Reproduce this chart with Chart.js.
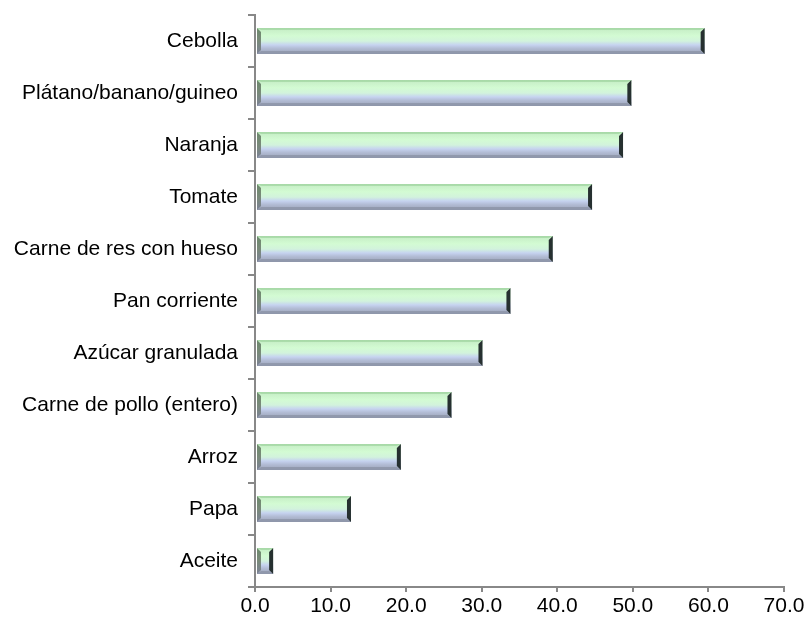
<!DOCTYPE html>
<html lang="es">
<head>
<meta charset="utf-8">
<title>Productos</title>
<script src="https://cdn.jsdelivr.net/npm/chart.js@4.4.1/dist/chart.umd.min.js"></script>
<style>
  html, body { margin: 0; padding: 0; background: #ffffff; }
  canvas { display: block; }
</style>
</head>
<body>
<canvas id="productChart" width="811" height="619"></canvas>
<script>
const categories = [
  "Cebolla",
  "Plátano/banano/guineo",
  "Naranja",
  "Tomate",
  "Carne de res con hueso",
  "Pan corriente",
  "Azúcar granulada",
  "Carne de pollo (entero)",
  "Arroz",
  "Papa",
  "Aceite",
];
const values = [59.5, 49.8, 48.7, 44.6, 39.4, 33.8, 30.1, 26.0, 19.3, 12.7, 2.4];
const xMin = 0;
const xMax = 70;
const xStep = 10;

const axisColor = "#888888";
const fontFamily = "'Liberation Sans', Arial, sans-serif";

// bars are filled here so they get the beveled, glassy look
const bevelBars = {
  id: "bevelBars",
  afterDatasetsDraw: (chart) => {
    const ctx = chart.ctx;
    const meta = chart.getDatasetMeta(0);
    meta.data.forEach((bar) => {
      const { x, y, base, height } = bar.getProps(["x", "y", "base", "height"], true);
      const x0 = Math.min(base, x) + 1;
      const x1 = Math.max(base, x);
      const y0 = y - height / 2;
      const y1 = y + height / 2;
      const b = Math.min(4, (x1 - x0) / 3);

      ctx.save();
      const grad = ctx.createLinearGradient(0, y0, 0, y1);
      grad.addColorStop(0, "#bde6bd");
      grad.addColorStop(0.08, "#c8f0c8");
      grad.addColorStop(0.3, "#d3fbd3");
      grad.addColorStop(0.5, "#d2f3dc");
      grad.addColorStop(0.65, "#c6d3f0");
      grad.addColorStop(0.78, "#b3bdd6");
      grad.addColorStop(1, "#9aa2b6");
      ctx.fillStyle = grad;
      ctx.fillRect(x0, y0, x1 - x0, y1 - y0);

      // top bevel
      ctx.fillStyle = "rgba(150, 205, 150, 0.55)";
      ctx.beginPath();
      ctx.moveTo(x0, y0);
      ctx.lineTo(x1, y0);
      ctx.lineTo(x1 - b, y0 + 2);
      ctx.lineTo(x0 + b, y0 + 2);
      ctx.closePath();
      ctx.fill();

      // bottom bevel
      ctx.fillStyle = "rgba(140, 148, 168, 0.8)";
      ctx.beginPath();
      ctx.moveTo(x0, y1);
      ctx.lineTo(x1, y1);
      ctx.lineTo(x1 - b, y1 - 3);
      ctx.lineTo(x0 + b, y1 - 3);
      ctx.closePath();
      ctx.fill();

      // left bevel
      const lg = ctx.createLinearGradient(0, y0, 0, y1);
      lg.addColorStop(0, "#6d8a6d");
      lg.addColorStop(0.5, "#7a8a7a");
      lg.addColorStop(1, "#7c8296");
      ctx.fillStyle = lg;
      ctx.beginPath();
      ctx.moveTo(x0, y0);
      ctx.lineTo(x0 + b, y0 + b);
      ctx.lineTo(x0 + b, y1 - b);
      ctx.lineTo(x0, y1);
      ctx.closePath();
      ctx.fill();

      // dark end cap
      ctx.fillStyle = "#263030";
      ctx.beginPath();
      ctx.moveTo(x1, y0);
      ctx.lineTo(x1, y1);
      ctx.lineTo(x1 - b, y1 - b);
      ctx.lineTo(x1 - b, y0 + b);
      ctx.closePath();
      ctx.fill();
      ctx.restore();
    });
  },
};

const data = {
  labels: categories,
  datasets: [
    {
      data: values,
      backgroundColor: "rgba(0, 0, 0, 0)",
      borderWidth: 0,
      categoryPercentage: 1,
      barPercentage: 0.5,
    },
  ],
};

const config = {
  type: "bar",
  data: data,
  options: {
    indexAxis: "y",
    responsive: false,
    animation: false,
    layout: {
      padding: { top: 15, right: 27, bottom: 0, left: 0 },
    },
    plugins: {
      legend: { display: false },
      tooltip: { enabled: false },
    },
    scales: {
      x: {
        min: xMin,
        max: xMax,
        afterFit: (scale) => {
          scale.height = 32;
          scale.paddingLeft = 0;
        },
        ticks: {
          stepSize: xStep,
          color: "#000000",
          padding: 2,
          font: { family: fontFamily, size: 21 },
          callback: (value) => Number(value).toFixed(1),
        },
        grid: {
          display: true,
          drawOnChartArea: false,
          drawTicks: true,
          tickLength: 5,
          color: axisColor,
          lineWidth: 2,
        },
        border: { display: true, color: axisColor, width: 2 },
      },
      y: {
        afterFit: (scale) => {
          scale.width = 255;
          scale.paddingTop = 0;
          scale.paddingBottom = 0;
        },
        ticks: {
          color: "#000000",
          padding: 10,
          font: { family: fontFamily, size: 21 },
        },
        grid: {
          display: true,
          offset: true,
          drawOnChartArea: false,
          drawTicks: true,
          tickLength: 7,
          color: axisColor,
          lineWidth: 2,
        },
        border: { display: true, color: axisColor, width: 2 },
      },
    },
  },
  plugins: [bevelBars],
};

const productChart = document.getElementById("productChart");
new Chart(productChart, config);
</script>
</body>
</html>
